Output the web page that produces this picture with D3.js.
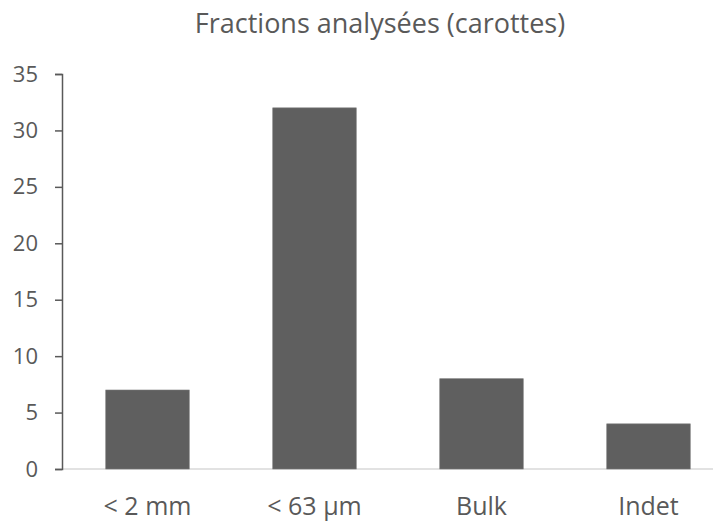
<!DOCTYPE html>
<html><head><meta charset="utf-8">
<script src="https://cdn.jsdelivr.net/npm/d3@7"></script>
<style>body{margin:0;background:#fff}svg{display:block}</style>
</head><body>
<svg id="c" width="713" height="522"></svg>
<script>
const categories = ["< 2 mm", "< 63 µm", "Bulk", "Indet"];
const values = [7, 32, 8, 4];
const yTicks = [0, 5, 10, 15, 20, 25, 30, 35];
const title = "Fractions analysées (carottes)";

const svg = d3.select("#c");
const font = "'Open Sans', sans-serif";
const x = d3.scaleBand().domain(categories).range([64, 732]).paddingInner(0.5).paddingOuter(0.25);
const y = d3.scaleLinear().domain([0, 35]).range([469, 74]);

svg.append("text").attr("x", 380).attr("y", 33).attr("text-anchor", "middle")
  .attr("font-family", font).attr("font-size", 27).attr("fill", "#595959").text(title);

// baseline
svg.append("line").attr("x1", 62).attr("x2", 713).attr("y1", y(0)).attr("y2", y(0))
  .attr("stroke", "#d9d9d9").attr("stroke-width", 1.5);

svg.selectAll("rect.bar").data(values).join("rect").attr("class", "bar")
  .attr("x", (d, i) => x(categories[i])).attr("width", x.bandwidth())
  .attr("y", d => y(d)).attr("height", d => y(0) - y(d))
  .attr("fill", "#5f5f5f").attr("stroke", "#7a7a7a").attr("stroke-width", 0.6);

const ya = svg.append("g").attr("transform", "translate(62,0)")
  .call(d3.axisLeft(y).tickValues(yTicks).tickSize(7).tickPadding(17));
ya.select(".domain").attr("stroke", "#595959").attr("stroke-width", 1.5);
ya.selectAll(".tick line").attr("stroke", "#595959").attr("stroke-width", 1.5);
ya.selectAll(".tick text").attr("font-family", font).attr("font-size", 22).attr("fill", "#595959");

const xa = svg.append("g").attr("transform", `translate(0,${y(0)})`)
  .call(d3.axisBottom(x).tickSize(0));
xa.select(".domain").remove();
xa.selectAll(".tick text").attr("y", 46).attr("dy", 0)
  .attr("font-family", font).attr("font-size", 25).attr("fill", "#595959");
</script>
</body></html>
